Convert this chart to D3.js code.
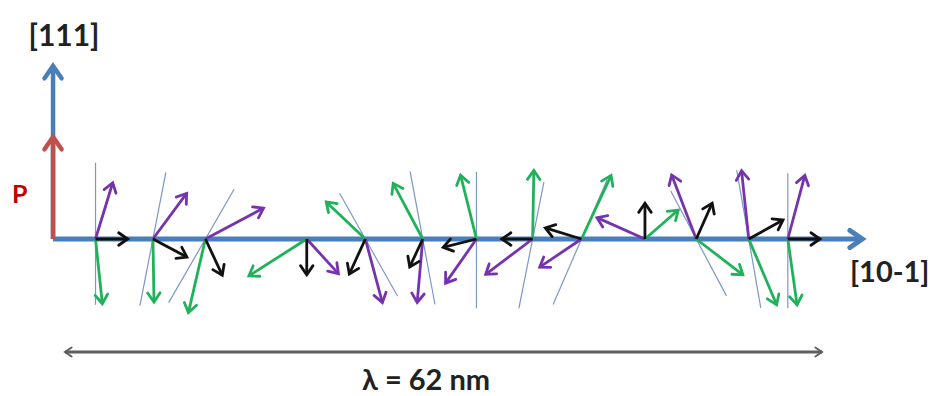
<!DOCTYPE html>
<html>
<head>
<meta charset="utf-8">
<script src="https://cdn.jsdelivr.net/npm/d3@7/dist/d3.min.js"></script>
<style>
  html, body { margin: 0; padding: 0; background: #fff; }
  svg { display: block; }
</style>
</head>
<body>
<script>
// ---- data ----
// site positions along [10-1] in nm (one modulation period λ = 62 nm)
const sites = [2.5, 7.2, 11.5, 19.8, 24.6, 29.3, 33.7, 38.3, 42.3, 47.5, 51.7, 56.0, 59.2];
// vector directions (deg, counter-clockwise from [10-1]) and relative magnitudes
const greenAngle  = [-84, -89, -103, -147.5, 136.5, 118, 104, 89, 65, 41, -37.5, -67, -82];
const greenLen    = [0.93, 0.90, 1.08, 0.98, 0.77, 0.90, 0.94, 0.98, 1.00, 0.63, 0.84, 1.02, 0.95];
const purpleAngle = [73, 53.5, 28, -47.6, -75, -95, -125, -143, -146, 156, 111, 96, 75];
const purpleLen   = [0.84, 0.81, 0.94, 0.67, 0.94, 0.91, 0.77, 0.84, 0.72, 0.75, 0.98, 0.98, 0.94];
const blackAngle  = [0, -28, -65, -90, -114.6, -115, -166, 180, 163, 90, 66, 29, 0];
const blackLen    = [0.46, 0.55, 0.57, 0.51, 0.55, 0.44, 0.49, 0.44, 0.54, 0.51, 0.56, 0.56, 0.46];
// thin guide lines through the sites (angle, extent up, extent down); null = none
const lineAngle = [90, 79, 60, null, 119.4, 100.6, 90, 78.8, 66.6, null, 118, 99.9, 90];
const lineUp    = [1.09, 0.97, 0.82, null, 0.75, 0.98, 0.96, 0.83, 0.92, null, 0.78, 1.00, 0.94];
const lineDown  = [0.94, 0.97, 1.05, null, 0.94, 0.95, 0.99, 1.01, 1.02, null, 0.92, 1.00, 0.99];
// axes
const axisXStart = -0.98, axisXEnd = 65.3;   // nm
const axis111 = 1.0, polarP = 0.59;           // relative heights
const lambdaRange = [0, 62];
const labels = { y: "[111]", x: "[10-1]", p: "P", lambda: "λ = 62 nm" };

// ---- layout ----
const W = 932, H = 396;
const svg = d3.select("body").append("svg").attr("width", W).attr("height", H);

const x = d3.scaleLinear().domain([0, 62]).range([65, 822]);
const y = d3.scaleLinear().domain([0, 1]).range([239, 66]);
const v = d3.scaleLinear().domain([0, 1]).range([0, 70]);
const y0 = y(0);

const C = {
  blue: "#4a7ebb", red: "#c0504d", green: "#1fb25a", purple: "#7634ac",
  black: "#111", thin: "#6f8cc6", gray: "#5e5e5e", pRed: "#c00000"
};

function chevron(g, x1, y1, x2, y2, size, color, width) {
  const a = Math.atan2(y2 - y1, x2 - x1);
  const spread = Math.PI / 5.2;
  const p1 = [x2 - size * Math.cos(a - spread), y2 - size * Math.sin(a - spread)];
  const p2 = [x2 - size * Math.cos(a + spread), y2 - size * Math.sin(a + spread)];
  g.append("path")
    .attr("d", d3.line()([p1, [x2, y2], p2]))
    .attr("fill", "none").attr("stroke", color).attr("stroke-width", width)
    .attr("stroke-linecap", "round").attr("stroke-linejoin", "miter");
}
function arrow(g, x1, y1, x2, y2, color, width, size) {
  g.append("line").attr("x1", x1).attr("y1", y1).attr("x2", x2).attr("y2", y2)
    .attr("stroke", color).attr("stroke-width", width).attr("stroke-linecap", "butt");
  chevron(g, x1, y1, x2, y2, size, color, width);
}
const rad = d => d * Math.PI / 180;

// main axes
const gAxes = svg.append("g");
arrow(gAxes, x(axisXStart), y0, x(axisXEnd), y0, C.blue, 5, 15);
arrow(gAxes, x(axisXStart), y0, x(axisXStart), y(axis111), C.blue, 4.5, 15);
arrow(gAxes, x(axisXStart), y0, x(axisXStart), y(polarP), C.red, 4.5, 15);

// thin guide lines
const gThin = svg.append("g");
sites.forEach((s, i) => {
  if (lineAngle[i] == null) return;
  const cx = x(s), a = rad(lineAngle[i]);
  gThin.append("line")
    .attr("x1", cx + v(lineUp[i]) * Math.cos(a)).attr("y1", y0 - v(lineUp[i]) * Math.sin(a))
    .attr("x2", cx - v(lineDown[i]) * Math.cos(a)).attr("y2", y0 + v(lineDown[i]) * Math.sin(a))
    .attr("stroke", C.thin).attr("stroke-width", 1.2).attr("opacity", 0.9);
});

// spin vectors
const gVec = svg.append("g");
const series = [
  { ang: greenAngle, len: greenLen, color: C.green },
  { ang: purpleAngle, len: purpleLen, color: C.purple },
  { ang: blackAngle, len: blackLen, color: C.black }
];
series.forEach(sr => {
  sites.forEach((s, i) => {
    const cx = x(s), a = rad(sr.ang[i]), L = v(sr.len[i]);
    arrow(gVec, cx, y0, cx + L * Math.cos(a), y0 - L * Math.sin(a), sr.color, 2.8, 11);
  });
});

// λ double arrow
const gL = svg.append("g");
const ly = 352;
gL.append("line").attr("x1", x(lambdaRange[0])).attr("y1", ly).attr("x2", x(lambdaRange[1])).attr("y2", ly)
  .attr("stroke", C.gray).attr("stroke-width", 3);
chevron(gL, x(lambdaRange[1]), ly, x(lambdaRange[0]), ly, 8, C.gray, 2);
chevron(gL, x(lambdaRange[0]), ly, x(lambdaRange[1]), ly, 8, C.gray, 2);

// labels
const font = "Lato, 'Open Sans', sans-serif";
svg.append("text").attr("x", 64).attr("y", 46).attr("text-anchor", "middle")
  .attr("font-family", font).attr("font-weight", "bold").attr("font-size", 30)
  .attr("fill", "#222").text(labels.y);
svg.append("text").attr("x", 850).attr("y", 282)
  .attr("font-family", font).attr("font-weight", "bold").attr("font-size", 29)
  .attr("fill", "#222").text(labels.x);
svg.append("text").attr("x", 12).attr("y", 203)
  .attr("font-family", font).attr("font-weight", "bold").attr("font-size", 25)
  .attr("fill", C.pRed).text(labels.p);
svg.append("text").attr("x", 426).attr("y", 390).attr("text-anchor", "middle")
  .attr("font-family", font).attr("font-weight", "bold").attr("font-size", 29)
  .attr("fill", "#222").text(labels.lambda);
</script>
</body>
</html>
